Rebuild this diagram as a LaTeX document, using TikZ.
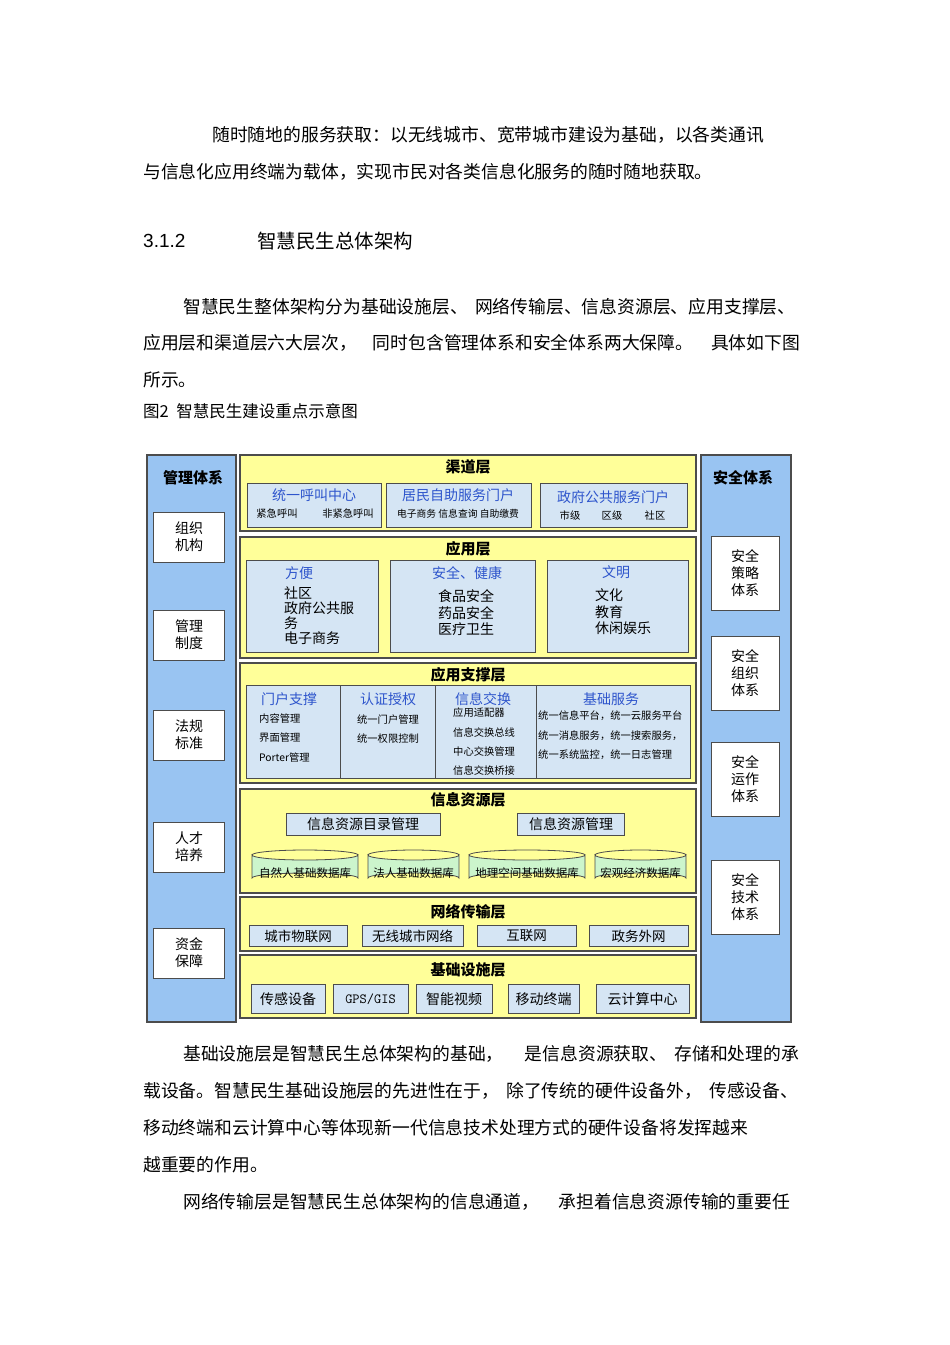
\documentclass[tikz,border=0pt]{standalone}
\usepackage{fontspec}
\setmainfont{Noto Sans CJK SC}
\setsansfont{Liberation Sans}
\usetikzlibrary{calc}
\definecolor{panelblue}{HTML}{99C4F2}
\definecolor{layery}{HTML}{FFFF99}
\definecolor{cellb}{HTML}{D5E5F4}
\definecolor{ttl}{HTML}{2E55CC}
\definecolor{dbg}{HTML}{CCF5CC}
\tikzset{
  body/.style={anchor=west,inner sep=0pt,font=\fontsize{17.8}{17.8}\selectfont},
  panel/.style={draw=gray!60!black,line width=1.2pt,fill=panelblue},
  layer/.style={draw=gray!60!black,line width=1.2pt,fill=layery},
  wbox/.style={draw=gray!60!black,line width=1pt,fill=white,align=center,font=\fontsize{14}{17}\selectfont},
  cell/.style={draw=gray!60!black,line width=1pt,fill=cellb},
  ltitle/.style={font=\bfseries\fontsize{15}{15}\selectfont,inner sep=0pt},
  btitle/.style={text=ttl,font=\fontsize{14}{14}\selectfont,inner sep=0pt},
  small/.style={font=\fontsize{10.3}{10.3}\selectfont,inner sep=0pt},
  mid/.style={font=\fontsize{14}{16.5}\selectfont,inner sep=0pt},
}
\begin{document}
\begin{tikzpicture}[x=1pt,y=-1pt]
\useasboundingbox[fill=white] (0,0) rectangle (950,1345);
% body text
\node[body] (t1) at (212,135) {随时随地的服务获取：以无线城市、宽带城市建设为基础，以各类通讯};
\node[body] (t2) at (143,172) {与信息化应用终端为载体，实现市民对各类信息化服务的随时随地获取。};
\node[body,font=\fontsize{19}{19}\selectfont\sffamily] (h1) at (143,241) {3.1.2};
\node[body,font=\fontsize{19.5}{19.5}\selectfont] (h2) at (257,241) {智慧民生总体架构};
\node[body] (p1) at (183,307) {智慧民生整体架构分为基础设施层、\hspace{0.4em}网络传输层、信息资源层、应用支撑层、};
\node[body] (p2) at (143,343) {应用层和渠道层六大层次，\hspace{0.9em}同时包含管理体系和安全体系两大保障。\hspace{1em}具体如下图};
\node[body] (p3) at (143,380) {所示。};
\node[body,font=\fontsize{16.5}{16.5}\selectfont] (cap) at (143,411) {图2\ \ 智慧民生建设重点示意图};
\node[body] (b1) at (183,1054) {基础设施层是智慧民生总体架构的基础，\hspace{1.2em}是信息资源获取、\hspace{0.4em}存储和处理的承};
\node[body] (b2) at (143,1091) {载设备。智慧民生基础设施层的先进性在于，\hspace{0.4em}除了传统的硬件设备外，\hspace{0.4em}传感设备、};
\node[body] (b3) at (143,1128) {移动终端和云计算中心等体现新一代信息技术处理方式的硬件设备将发挥越来};
\node[body] (b4) at (143,1165) {越重要的作用。};
\node[body] (b5) at (183,1202) {网络传输层是智慧民生总体架构的信息通道，\hspace{1.1em}承担着信息资源传输的重要任};

% side panels
\draw[panel] (147,455) rectangle (236,1022);
\node[ltitle] (lt) at (193,478) {管理体系};
\foreach \n/\t/\y in {l1/组织\\机构/537,l2/管理\\制度/635,l3/法规\\标准/735,l4/人才\\培养/847,l5/资金\\保障/953}
  \node[wbox,minimum width=71pt,minimum height=50pt] (\n) at (189,\y) {\t};
\draw[panel] (701,455) rectangle (791,1022);
\node[ltitle] (rt) at (743,478) {安全体系};
\foreach \n/\t/\y in {r1/安全\\策略\\体系/573,r2/安全\\组织\\体系/673,r3/安全\\运作\\体系/779,r4/安全\\技术\\体系/897}
  \node[wbox,minimum width=68pt,minimum height=74pt] (\n) at (745,\y) {\t};

% 渠道层
\draw[layer] (240,455) rectangle (696,531);
\node[ltitle] (L1) at (468,467) {渠道层};
\draw[cell] (247,483) rectangle (381,527); \draw[cell] (386,483) rectangle (531,527); \draw[cell] (540,483) rectangle (687,527);
\node[btitle] (c1) at (314,495) {统一呼叫中心};
\node[small] (c1a) at (277,514) {紧急呼叫};
\node[small] (c1b) at (348,514) {非紧急呼叫};
\node[small,font=\fontsize{9.8}{9.8}\selectfont] (c2a) at (458,514) {电子商务 信息查询 自助缴费};
\node[btitle] (c2) at (458,495) {居民自助服务门户};
\node[btitle] (c3) at (613,497) {政府公共服务门户};
\node[small] (c3a) at (570,516) {市级};
\node[small] (c3b) at (612,516) {区级};
\node[small] (c3c) at (655,516) {社区};

% 应用层
\draw[layer] (240,537) rectangle (696,658);
\node[ltitle] (L2) at (468,549) {应用层};
\draw[cell] (246,560) rectangle (378,652); \draw[cell] (390,560) rectangle (535,652); \draw[cell] (547,560) rectangle (688,652);
\node[btitle] (a1) at (299,573) {方便};
\node[mid,anchor=north west,align=left,font=\fontsize{14}{15}\selectfont] (a1b) at (284,586) {社区\\政府公共服\\务\\电子商务};
\node[btitle] (a2) at (467,573) {安全、健康};
\node[mid,align=center] (a2b) at (466,613) {食品安全\\药品安全\\医疗卫生};
\node[btitle] (a3) at (616,572) {文明};
\node[mid,align=left] (a3b) at (623,612) {文化\\教育\\休闲娱乐};

% 应用支撑层
\draw[layer] (240,663) rectangle (696,783);
\node[ltitle] (L3) at (468,675) {应用支撑层};
\draw[cell] (246,685) rectangle (690,778);
\draw[gray!60!black,line width=1pt] (340,685) -- (340,778) (435,685) -- (435,778) (536,685) -- (536,778);
\node[btitle] (s1) at (289,699) {门户支撑};
\node[small,anchor=west,align=left] (s1a) at (259,738) {内容管理\\[9pt]界面管理\\[9pt]Porter管理};
\node[btitle] (s2) at (388,699) {认证授权};
\node[small,align=left] (s2a) at (388,729) {统一门户管理\\[9pt]统一权限控制};
\node[btitle] (s3) at (483,699) {信息交换};
\node[small,anchor=north west,align=left] (s3a) at (453,708) {应用适配器\\[9pt]信息交换总线\\[9pt]中心交换管理\\[9pt]信息交换桥接};
\node[btitle] (s4) at (611,699) {基础服务};
\node[small,anchor=north west,align=left] (s4a) at (538,711) {统一信息平台，统一云服务平台\\[9pt]统一消息服务，统一搜索服务，\\[9pt]统一系统监控，统一日志管理};

% 信息资源层
\draw[layer] (240,789) rectangle (696,893);
\node[ltitle] (L4) at (468,800) {信息资源层};
\node[cell,minimum width=154pt,minimum height=22pt,font=\fontsize{14}{14}\selectfont] (ir1) at (363,824) {信息资源目录管理};
\node[cell,minimum width=107pt,minimum height=22pt,font=\fontsize{14}{14}\selectfont] (ir2) at (571,824) {信息资源管理};
\foreach \n/\xa/\xb/\t in {d1/252/358/自然人基础数据库,d2/368/459/法人基础数据库,d3/469/585/地理空间基础数据库,d4/595/686/宏观经济数据库}{
  \fill[dbg,draw=gray!60!black,line width=0.8pt] (\xa,855) -- (\xa,878) arc[start angle=180,end angle=360,x radius={(\xb-\xa)/2},y radius=5] -- (\xb,855) arc[start angle=0,end angle=180,x radius={(\xb-\xa)/2},y radius=5] -- cycle;
  \draw[gray!60!black,line width=0.8pt] (\xa,855) arc[start angle=180,end angle=360,x radius={(\xb-\xa)/2},y radius=5];
  \node[small,font=\fontsize{11.5}{11.5}\selectfont] (\n) at ({(\xa+\xb)/2},873) {\t};
}

% 网络传输层
\draw[layer] (240,897) rectangle (696,951);
\node[ltitle] (L5) at (468,912) {网络传输层};
\foreach \n/\xa/\xb/\t in {n1/249/347/城市物联网,n2/362/463/无线城市网络,n3/477/576/互联网,n4/589/688/政务外网}{
  \node[cell,minimum width={(\xb-\xa)*1pt},minimum height=21pt,inner sep=0pt,font=\fontsize{13.5}{13.5}\selectfont] (\n) at ({(\xa+\xb)/2},936) {\t};
}

% 基础设施层
\draw[layer] (240,955) rectangle (696,1018);
\node[ltitle] (L6) at (468,970) {基础设施层};
\foreach \n/\xa/\xb/\t in {f1/251/325/传感设备,f2/333/408/{\ttfamily GPS/GIS},f3/416/492/智能视频,f4/508/579/移动终端,f5/596/689/云计算中心}{
  \node[cell,minimum width={(\xb-\xa)*1pt},minimum height=29pt,inner sep=0pt,font=\fontsize{14}{14}\selectfont] (\n) at ({(\xa+\xb)/2},999) {\t};
}
\end{tikzpicture}
\end{document}
